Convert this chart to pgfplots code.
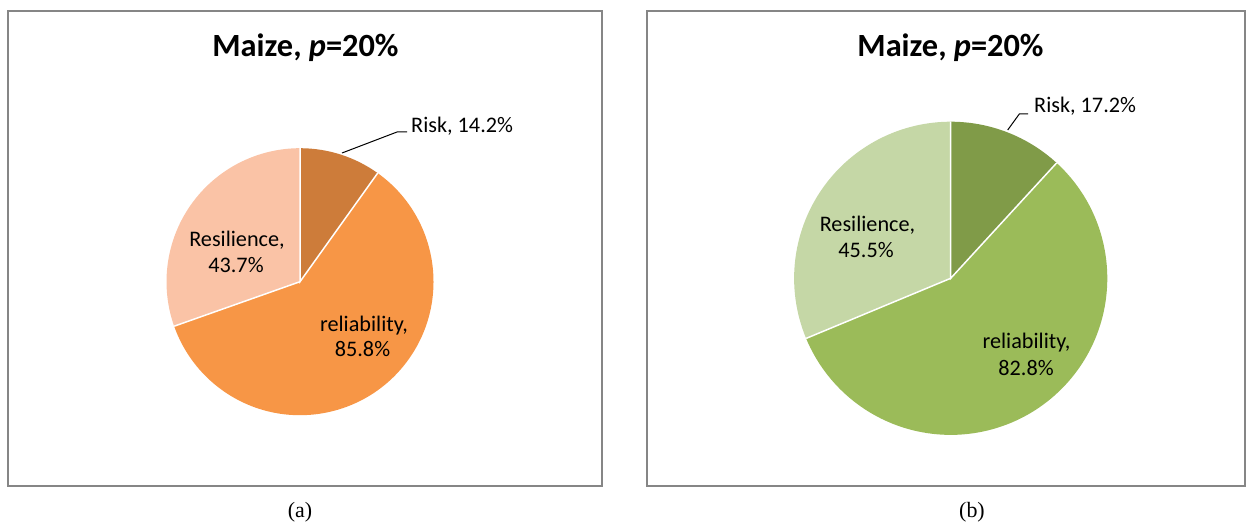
\documentclass[border=0pt]{standalone}
\usepackage{pgfplots}
\usepackage{pgfplotstable}
\pgfplotsset{compat=1.18}
\usepackage{fontspec}
\setmainfont{Carlito}
\newfontfamily\timesfont{Liberation Serif}

\definecolor{riskA}{RGB}{205,124,58}
\definecolor{relA}{RGB}{247,150,70}
\definecolor{resA}{RGB}{250,195,166}
\definecolor{riskB}{RGB}{128,155,72}
\definecolor{relB}{RGB}{155,187,89}
\definecolor{resB}{RGB}{197,215,166}
\definecolor{boxgray}{RGB}{134,134,134}

\pgfplotstableread{
label value
Risk 14.2
reliability 85.8
Resilience 43.7
}\pieA
\pgfplotstableread{
label value
Risk 17.2
reliability 82.8
Resilience 45.5
}\pieB

\begin{document}
\begin{tikzpicture}[x=1bp,y=1bp]
% pie A geometry
\pgfmathsetmacro\cAx{300}\pgfmathsetmacro\cAy{-281.7}\pgfmathsetmacro\rA{133.5}
\pgfplotstablegetelem{0}{value}\of\pieA \pgfmathsetmacro\vAa{\pgfplotsretval}
\pgfplotstablegetelem{1}{value}\of\pieA \pgfmathsetmacro\vAb{\pgfplotsretval}
\pgfplotstablegetelem{2}{value}\of\pieA \pgfmathsetmacro\vAc{\pgfplotsretval}
\pgfmathsetmacro\sA{\vAa+\vAb+\vAc}
\pgfmathsetmacro\aAa{90-(\vAa/\sA)*360}
\pgfmathsetmacro\aAb{\aAa-(\vAb/\sA)*360}
\pgfmathsetmacro\pAtx{\cAx}\pgfmathsetmacro\pAty{\cAy+\rA}
\pgfmathsetmacro\pAax{\cAx+\rA*cos(\aAa)}\pgfmathsetmacro\pAay{\cAy+\rA*sin(\aAa)}
\pgfmathsetmacro\pAbx{\cAx+\rA*cos(\aAb)}\pgfmathsetmacro\pAby{\cAy+\rA*sin(\aAb)}
% pie B geometry
\pgfmathsetmacro\cBx{950.7}\pgfmathsetmacro\cBy{-278.3}\pgfmathsetmacro\rB{156.6}
\pgfplotstablegetelem{0}{value}\of\pieB \pgfmathsetmacro\vBa{\pgfplotsretval}
\pgfplotstablegetelem{1}{value}\of\pieB \pgfmathsetmacro\vBb{\pgfplotsretval}
\pgfplotstablegetelem{2}{value}\of\pieB \pgfmathsetmacro\vBc{\pgfplotsretval}
\pgfmathsetmacro\sB{\vBa+\vBb+\vBc}
\pgfmathsetmacro\aBa{90-(\vBa/\sB)*360}
\pgfmathsetmacro\aBb{\aBa-(\vBb/\sB)*360}
\pgfmathsetmacro\pBtx{\cBx}\pgfmathsetmacro\pBty{\cBy+\rB}
\pgfmathsetmacro\pBax{\cBx+\rB*cos(\aBa)}\pgfmathsetmacro\pBay{\cBy+\rB*sin(\aBa)}
\pgfmathsetmacro\pBbx{\cBx+\rB*cos(\aBb)}\pgfmathsetmacro\pBby{\cBy+\rB*sin(\aBb)}
\begin{axis}[
  x=1bp, y=1bp, scale only axis, hide axis,
  xmin=0, xmax=1249, ymin=-522, ymax=0,
  anchor=origin, at={(0,0)}, clip=false,
]
% boxes
\draw[boxgray, line width=1.3bp] (axis cs:8,-11) rectangle (axis cs:602,-486);
\draw[boxgray, line width=1.3bp] (axis cs:647,-11) rectangle (axis cs:1245,-486);
% pie A
\fill[riskA] (axis cs:\cAx,\cAy) -- (axis cs:\pAtx,\pAty) arc[start angle=90, end angle=\aAa, radius=\rA bp] -- cycle;
\fill[relA] (axis cs:\cAx,\cAy) -- (axis cs:\pAax,\pAay) arc[start angle=\aAa, end angle=\aAb, radius=\rA bp] -- cycle;
\fill[resA] (axis cs:\cAx,\cAy) -- (axis cs:\pAbx,\pAby) arc[start angle=\aAb, end angle=-270, radius=\rA bp] -- cycle;
\draw[white, line width=1.5bp] (axis cs:\pAtx,\pAty) -- (axis cs:\cAx,\cAy) -- (axis cs:\pAax,\pAay);
\draw[white, line width=1.5bp] (axis cs:\cAx,\cAy) -- (axis cs:\pAbx,\pAby);
% pie B
\fill[riskB] (axis cs:\cBx,\cBy) -- (axis cs:\pBtx,\pBty) arc[start angle=90, end angle=\aBa, radius=\rB bp] -- cycle;
\fill[relB] (axis cs:\cBx,\cBy) -- (axis cs:\pBax,\pBay) arc[start angle=\aBa, end angle=\aBb, radius=\rB bp] -- cycle;
\fill[resB] (axis cs:\cBx,\cBy) -- (axis cs:\pBbx,\pBby) arc[start angle=\aBb, end angle=-270, radius=\rB bp] -- cycle;
\draw[white, line width=1.5bp] (axis cs:\pBtx,\pBty) -- (axis cs:\cBx,\cBy) -- (axis cs:\pBax,\pBay);
\draw[white, line width=1.5bp] (axis cs:\cBx,\cBy) -- (axis cs:\pBbx,\pBby);
% titles
\node[anchor=base, inner sep=0pt, font=\fontsize{32.5}{38}\selectfont\bfseries] at (axis cs:305.5,-57) {Maize, \textit{p}=20\%};
\node[anchor=base, inner sep=0pt, font=\fontsize{32.5}{38}\selectfont\bfseries] at (axis cs:950.5,-57) {Maize, \textit{p}=20\%};
% leader lines
\draw[black, line width=1bp] (axis cs:342,-153) -- (axis cs:397,-132) -- (axis cs:407,-132);
\draw[black, line width=1bp] (axis cs:1007.7,-130) -- (axis cs:1019.3,-114) -- (axis cs:1028,-114);
% labels pie A
\node[anchor=base west, inner sep=0pt, font=\fontsize{22.3}{27}\selectfont] at (axis cs:411,-133) {Risk, 14.2\%};
\node[anchor=base, inner sep=0pt, font=\fontsize{22.3}{27}\selectfont] at (axis cs:237,-246.7) {Resilience,};
\node[anchor=base, inner sep=0pt, font=\fontsize{22.3}{27}\selectfont] at (axis cs:236,-272.7) {43.7\%};
\node[anchor=base, inner sep=0pt, font=\fontsize{22.3}{27}\selectfont] at (axis cs:364,-331.7) {reliability,};
\node[anchor=base, inner sep=0pt, font=\fontsize{22.3}{27}\selectfont] at (axis cs:362.5,-356.7) {85.8\%};
% labels pie B
\node[anchor=base west, inner sep=0pt, font=\fontsize{22.3}{27}\selectfont] at (axis cs:1034,-113) {Risk, 17.2\%};
\node[anchor=base, inner sep=0pt, font=\fontsize{22.3}{27}\selectfont] at (axis cs:867.5,-231.7) {Resilience,};
\node[anchor=base, inner sep=0pt, font=\fontsize{22.3}{27}\selectfont] at (axis cs:866,-257.3) {45.5\%};
\node[anchor=base, inner sep=0pt, font=\fontsize{22.3}{27}\selectfont] at (axis cs:1026.5,-348.3) {reliability,};
\node[anchor=base, inner sep=0pt, font=\fontsize{22.3}{27}\selectfont] at (axis cs:1026,-375) {82.8\%};
% sub captions
\node[anchor=base, inner sep=0pt, font=\timesfont\fontsize{22}{26}\selectfont] at (axis cs:300,-517) {(a)};
\node[anchor=base, inner sep=0pt, font=\timesfont\fontsize{22}{26}\selectfont] at (axis cs:972,-517) {(b)};
\end{axis}
\useasboundingbox (0,0) rectangle (1249,-522);
\end{tikzpicture}
\end{document}
